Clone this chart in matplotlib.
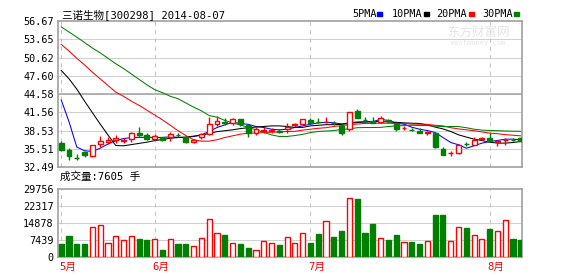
import numpy as np
import matplotlib
matplotlib.use('Agg')
import matplotlib.pyplot as plt
from matplotlib.patches import Rectangle
from matplotlib.transforms import blended_transform_factory

plt.rcParams['font.family'] = ['DejaVu Sans Mono', 'Noto Sans CJK SC']

# --- data ---
stock_name = '三诺生物'
stock_code = '[300298] 2014-08-07'

opens = [36.45, 35.23, 34.00, 34.90, 34.24, 36.33, 36.55, 36.99, 36.85, 37.10,
         38.20, 37.76, 37.10, 37.38, 37.38, 37.82, 37.38, 36.60, 37.38, 37.93,
         39.69, 39.90, 39.85, 40.40, 39.47, 38.09, 38.50, 38.40, 38.45, 38.86,
         39.50, 39.58, 40.29, 40.00, 39.90, 39.80, 39.36, 38.75, 41.78, 40.35,
         40.13, 39.90, 40.20, 39.58, 38.90, 38.66, 38.53, 38.15, 38.09, 35.50,
         34.75, 34.79, 36.30, 36.17, 37.20, 37.27, 36.70, 36.95, 37.02, 37.27]
highs = [36.85, 35.56, 34.63, 35.07, 36.10, 37.65, 37.54, 37.82, 37.27, 38.26,
         39.08, 38.09, 37.98, 37.54, 38.26, 38.20, 37.54, 37.21, 38.20, 40.84,
         41.00, 40.56, 40.56, 40.51, 39.63, 39.19, 39.19, 38.90, 38.75, 39.74,
         39.74, 40.45, 40.68, 40.56, 40.73, 40.18, 39.85, 41.56, 42.05, 40.84,
         40.73, 40.95, 40.40, 39.74, 39.30, 38.92, 38.92, 38.37, 38.09, 35.78,
         35.07, 36.33, 36.60, 37.43, 37.54, 38.09, 36.99, 37.27, 37.27, 37.45]
lows = [35.06, 33.69, 33.58, 34.08, 34.20, 35.78, 36.33, 36.44, 36.44, 36.55,
        37.54, 36.88, 36.88, 36.82, 36.72, 37.43, 36.44, 36.44, 37.16, 37.82,
        39.35, 39.47, 39.47, 39.35, 37.54, 37.87, 38.09, 38.20, 38.09, 38.20,
        39.19, 39.50, 39.74, 39.74, 39.74, 39.47, 37.82, 38.53, 40.57, 40.02,
        39.74, 39.74, 39.74, 38.37, 38.64, 38.37, 38.09, 37.82, 35.67, 34.40,
        34.24, 34.68, 35.90, 36.17, 36.88, 36.72, 36.00, 36.17, 36.72, 36.60]
closes = [35.34, 34.35, 33.94, 34.40, 36.06, 36.72, 36.99, 37.27, 36.90, 38.09,
          37.76, 37.10, 37.65, 36.99, 37.93, 37.76, 36.55, 36.99, 37.93, 39.58,
          40.12, 39.85, 40.40, 39.58, 38.09, 38.75, 38.60, 38.55, 38.35, 39.19,
          39.55, 40.40, 39.85, 39.90, 39.96, 39.74, 38.09, 41.56, 40.68, 40.29,
          39.74, 40.57, 40.13, 38.75, 38.92, 38.60, 38.20, 38.30, 35.78, 34.40,
          34.80, 36.17, 36.27, 37.00, 37.30, 36.83, 36.80, 37.00, 36.96, 36.72]
volumes = [5860, 9380, 5860, 5860, 13190, 14060, 6150, 9230, 7620, 9230,
           8060, 7620, 7910, 3220, 7910, 5860, 5860, 4830, 8350, 16700,
           10550, 9820, 6150, 5860, 4100, 3220, 7030, 6150, 5420, 8790,
           6150, 10550, 6300, 10260, 15820, 8940, 11570, 25930, 25200, 10700,
           14650, 8350, 7620, 9820, 6590, 6740, 5860, 7030, 18170, 18170,
           7030, 13190, 12890, 9670, 7910, 12450, 11570, 16260, 8060, 7605]

ma5 = [43.6, 40.0, 35.8, 35.18, 35.07, 35.6, 36.3, 36.85, 37.2, 37.35,
       37.4, 37.4, 37.4, 37.37, 37.5, 37.4, 37.37, 37.54, 37.82, 38.37,
       39.03, 39.46, 39.9, 39.7, 39.56, 39.2, 39.03, 38.75, 38.64, 38.75,
       39.03, 39.3, 39.58, 39.8, 39.9, 39.8, 39.63, 39.8, 39.96, 39.96,
       40.0, 40.4, 40.18, 39.74, 39.58, 39.08, 38.75, 38.53, 38.2, 37.38,
       36.55, 36.17, 35.6, 36.0, 36.44, 36.72, 36.88, 37.1, 37.1, 36.99]
ma10 = [48.5, 47.1, 45.4, 43.4, 41.5, 39.6, 37.8, 36.05, 36.0, 36.2,
        36.4, 36.6, 36.85, 37.05, 37.25, 37.37, 37.45, 37.6, 37.75, 38.05,
        38.35, 38.5, 38.65, 38.85, 39.0, 39.1, 39.2, 39.3, 39.3, 39.2,
        39.05, 39.05, 39.3, 39.4, 39.5, 39.5, 39.55, 39.7, 39.85, 39.95,
        40.0, 40.02, 39.95, 39.9, 39.8, 39.74, 39.7, 39.46, 39.1, 38.8,
        38.37, 37.82, 37.45, 37.1, 36.88, 36.6, 36.45, 36.44, 36.55, 36.72]
ma20 = [52.8, 51.7, 50.5, 49.4, 48.2, 47.1, 46.0, 44.9, 44.2, 43.4,
        42.7, 41.9, 41.1, 40.3, 39.4, 38.5, 37.7, 37.0, 36.77, 36.77,
        37.0, 37.37, 37.65, 37.93, 38.09, 38.1, 38.2, 38.26, 38.3, 38.37,
        38.4, 38.6, 38.75, 38.9, 39.0, 39.2, 39.35, 39.5, 39.6, 39.7,
        39.74, 39.74, 39.74, 39.7, 39.7, 39.6, 39.58, 39.55, 39.4, 39.3,
        39.0, 38.8, 38.65, 38.5, 38.3, 38.1, 38.0, 37.85, 37.75, 37.65]
ma30 = [55.7, 54.85, 54.0, 53.1, 52.2, 51.4, 50.5, 49.6, 48.8, 47.9,
        47.0, 46.1, 45.3, 44.8, 44.2, 43.8, 43.1, 42.4, 41.8, 41.0,
        40.75, 40.2, 39.8, 39.45, 39.05, 38.65, 38.25, 37.8, 37.55, 37.55,
        37.7, 37.9, 38.2, 38.37, 38.45, 38.53, 38.7, 38.8, 39.0, 39.03,
        39.03, 39.05, 39.2, 39.3, 39.35, 39.4, 39.36, 39.36, 39.25, 39.19,
        39.19, 39.19, 39.0, 38.75, 38.6, 38.53, 38.5, 38.45, 38.42, 38.4]

ma_names = ['5PMA', '10PMA', '20PMA', '30PMA']
ma_colors = ['#0000ff', '#000000', '#ff0000', '#008000']

price_ticks = [56.67, 53.65, 50.62, 47.60, 44.58, 41.56, 38.53, 35.51, 32.49]
vol_ticks = [0, 7439, 14878, 22317, 29756]

month_starts = [0, 12, 32, 55]
month_labels = ['5月', '6月', '7月', '8月']

RED = '#ff0000'
GREEN = '#008000'
FRAME = '#a0a0a0'
LW = 0.75

W, H = 578, 276


def box(l, t, r, b):
    return [l / W, 1 - b / H, (r - l) / W, (b - t) / H]


fig = plt.figure(figsize=(W / 100, H / 100), dpi=100)
ax = fig.add_axes(box(58, 21, 522, 167))
axv = fig.add_axes(box(58, 189, 522, 257))

x = np.arange(len(closes))
o = np.array(opens)
c = np.array(closes)
up = c >= o
edge = np.where(up, RED, GREEN)
face = np.where(up, 'white', GREEN)

# candles
ax.vlines(x, lows, highs, colors=edge, lw=1, zorder=3)
body_h = np.maximum(np.abs(c - o), 0.05)
ax.bar(x, body_h, bottom=np.minimum(o, c), width=0.62, color=face,
       edgecolor=edge, lw=1, zorder=4)

# moving averages
for vals, col in zip([ma5, ma10, ma20, ma30], ma_colors):
    ax.plot(x, vals, color=col, lw=LW, zorder=2)

# volume
axv.bar(x, volumes, width=0.66, color=face, edgecolor=edge, lw=1, zorder=3)

for a, ticks, lim in [(ax, price_ticks, (32.49, 56.67)), (axv, vol_ticks, (0, 29756))]:
    a.set_xlim(-0.41, 59.15)
    a.set_ylim(*lim)
    a.set_yticks(ticks)
    a.set_yticklabels([f'{t:.2f}' if a is ax else str(t) for t in ticks])
    a.set_xticks([])
    a.tick_params(axis='y', length=0, pad=3, labelsize=7.3)
    for s in a.spines.values():
        s.set_color(FRAME)
        s.set_linewidth(1.2)
    for t in ticks[1:-1]:
        a.axhline(t, color='#d0d0d0', lw=LW, zorder=0)
    for m in month_starts:
        a.axvline(m, color='#c4c4c4', lw=LW, ls=(0, (4, 4)), zorder=0)

ax.axhline(price_ticks[4], color='#a8a8a8', lw=1.2, zorder=0)

# month labels
trans = blended_transform_factory(axv.transData, axv.transAxes)
for m, lab in zip(month_starts, month_labels):
    axv.text(m - 0.3, -0.15, lab, transform=trans, color=RED, fontsize=7.6,
             ha='left', va='center')

# header texts
fig.text(62 / W, 1 - 14.5 / H, stock_name + stock_code, fontsize=7.6,
         ha='left', va='center')
fig.text(60 / W, 1 - 177 / H, f'成交量:{volumes[-1]} 手', fontsize=7.6,
         ha='left', va='center')

legend_x = [352, 392, 436, 482]
square_x = [377, 424, 469, 514]
for name, col, tx, sx in zip(ma_names, ma_colors, legend_x, square_x):
    fig.text(tx / W, 1 - 14 / H, name, fontsize=7.3, ha='left', va='center')
    fig.patches.append(Rectangle((sx / W, 1 - 15.5 / H), 5 / W, 3 / H,
                                 transform=fig.transFigure, color=col))

# faint watermark
fig.text(478 / W, 1 - 32 / H, '东方财富网', fontsize=9, color='#e6e6e6',
         ha='center', va='center', family=['Noto Sans CJK SC'])
fig.text(478 / W, 1 - 43 / H, 'eastmoney.com', fontsize=5, color='#e6e6e6',
         ha='center', va='center')

fig.savefig('out.png', dpi=100)
